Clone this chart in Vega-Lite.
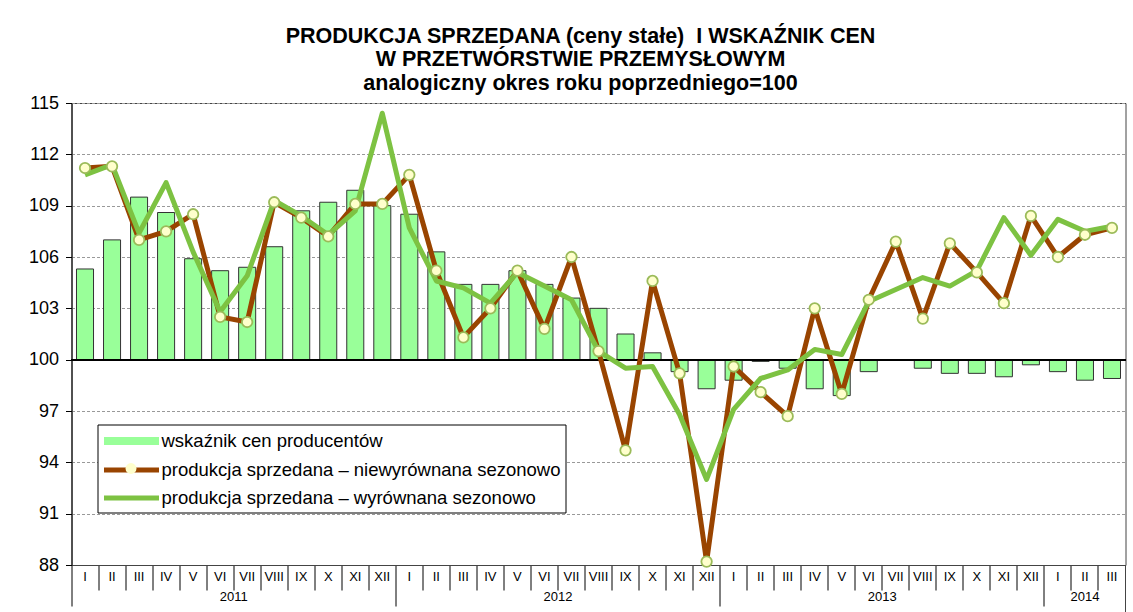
{
  "$schema": "https://vega.github.io/schema/vega-lite/v6.json",
  "width": 1054,
  "height": 462,
  "autosize": {"type": "none"},
  "padding": {"left": 71.5, "top": 103, "right": 7.5, "bottom": 47},
  "background": "white",
  "title": {
    "text": ["PRODUKCJA SPRZEDANA (ceny stałe)\u00a0 I WSKAŹNIK CEN", "W PRZETWÓRSTWIE PRZEMYSŁOWYM", "analogiczny okres roku poprzedniego=100"],
    "font": "Liberation Sans", "fontSize": 21.5, "fontWeight": "bold", "color": "#000",
    "anchor": "middle", "dx": -18, "lineHeight": 23.5, "offset": 0
  },
  "config": {
    "font": "Liberation Sans",
    "view": {"stroke": "#444", "strokeWidth": 1}
  },
  "data": {"values": [
    {"okres": "I 2011", "rok": "2011", "mies": "I", "ceny": 105.3, "niewyr": 111.2, "wyr": 110.8},
    {"okres": "II 2011", "rok": "2011", "mies": "II", "ceny": 107.0, "niewyr": 111.3, "wyr": 111.4},
    {"okres": "III 2011", "rok": "2011", "mies": "III", "ceny": 109.5, "niewyr": 107.0, "wyr": 107.4},
    {"okres": "IV 2011", "rok": "2011", "mies": "IV", "ceny": 108.6, "niewyr": 107.5, "wyr": 110.35},
    {"okres": "V 2011", "rok": "2011", "mies": "V", "ceny": 105.9, "niewyr": 108.5, "wyr": 106.3},
    {"okres": "VI 2011", "rok": "2011", "mies": "VI", "ceny": 105.2, "niewyr": 102.5, "wyr": 102.8},
    {"okres": "VII 2011", "rok": "2011", "mies": "VII", "ceny": 105.4, "niewyr": 102.2, "wyr": 104.9},
    {"okres": "VIII 2011", "rok": "2011", "mies": "VIII", "ceny": 106.6, "niewyr": 109.2, "wyr": 109.3},
    {"okres": "IX 2011", "rok": "2011", "mies": "IX", "ceny": 108.7, "niewyr": 108.3, "wyr": 108.4},
    {"okres": "X 2011", "rok": "2011", "mies": "X", "ceny": 109.2, "niewyr": 107.2, "wyr": 107.3},
    {"okres": "XI 2011", "rok": "2011", "mies": "XI", "ceny": 109.9, "niewyr": 109.1, "wyr": 108.7},
    {"okres": "XII 2011", "rok": "2011", "mies": "XII", "ceny": 109.0, "niewyr": 109.1, "wyr": 114.4},
    {"okres": "I 2012", "rok": "2012", "mies": "I", "ceny": 108.5, "niewyr": 110.8, "wyr": 107.7},
    {"okres": "II 2012", "rok": "2012", "mies": "II", "ceny": 106.3, "niewyr": 105.2, "wyr": 104.6},
    {"okres": "III 2012", "rok": "2012", "mies": "III", "ceny": 104.4, "niewyr": 101.3, "wyr": 104.2},
    {"okres": "IV 2012", "rok": "2012", "mies": "IV", "ceny": 104.4, "niewyr": 103.0, "wyr": 103.3},
    {"okres": "V 2012", "rok": "2012", "mies": "V", "ceny": 105.2, "niewyr": 105.2, "wyr": 105.1},
    {"okres": "VI 2012", "rok": "2012", "mies": "VI", "ceny": 104.4, "niewyr": 101.8, "wyr": 104.3},
    {"okres": "VII 2012", "rok": "2012", "mies": "VII", "ceny": 103.6, "niewyr": 106.0, "wyr": 103.5},
    {"okres": "VIII 2012", "rok": "2012", "mies": "VIII", "ceny": 103.0, "niewyr": 100.5, "wyr": 100.5},
    {"okres": "IX 2012", "rok": "2012", "mies": "IX", "ceny": 101.5, "niewyr": 94.7, "wyr": 99.5},
    {"okres": "X 2012", "rok": "2012", "mies": "X", "ceny": 100.4, "niewyr": 104.6, "wyr": 99.6},
    {"okres": "XI 2012", "rok": "2012", "mies": "XI", "ceny": 99.3, "niewyr": 99.2, "wyr": 96.8},
    {"okres": "XII 2012", "rok": "2012", "mies": "XII", "ceny": 98.3, "niewyr": 88.2, "wyr": 93.0},
    {"okres": "I 2013", "rok": "2013", "mies": "I", "ceny": 98.8, "niewyr": 99.6, "wyr": 97.1},
    {"okres": "II 2013", "rok": "2013", "mies": "II", "ceny": 99.9, "niewyr": 98.1, "wyr": 98.9},
    {"okres": "III 2013", "rok": "2013", "mies": "III", "ceny": 99.5, "niewyr": 96.7, "wyr": 99.4},
    {"okres": "IV 2013", "rok": "2013", "mies": "IV", "ceny": 98.3, "niewyr": 103.0, "wyr": 100.6},
    {"okres": "V 2013", "rok": "2013", "mies": "V", "ceny": 97.9, "niewyr": 98.0, "wyr": 100.3},
    {"okres": "VI 2013", "rok": "2013", "mies": "VI", "ceny": 99.3, "niewyr": 103.5, "wyr": 103.4},
    {"okres": "VII 2013", "rok": "2013", "mies": "VII", "ceny": 100.0, "niewyr": 106.9, "wyr": 104.1},
    {"okres": "VIII 2013", "rok": "2013", "mies": "VIII", "ceny": 99.5, "niewyr": 102.4, "wyr": 104.8},
    {"okres": "IX 2013", "rok": "2013", "mies": "IX", "ceny": 99.2, "niewyr": 106.8, "wyr": 104.3},
    {"okres": "X 2013", "rok": "2013", "mies": "X", "ceny": 99.2, "niewyr": 105.1, "wyr": 105.2},
    {"okres": "XI 2013", "rok": "2013", "mies": "XI", "ceny": 99.0, "niewyr": 103.3, "wyr": 108.3},
    {"okres": "XII 2013", "rok": "2013", "mies": "XII", "ceny": 99.7, "niewyr": 108.4, "wyr": 106.1},
    {"okres": "I 2014", "rok": "2014", "mies": "I", "ceny": 99.3, "niewyr": 106.0, "wyr": 108.2},
    {"okres": "II 2014", "rok": "2014", "mies": "II", "ceny": 98.8, "niewyr": 107.3, "wyr": 107.5},
    {"okres": "III 2014", "rok": "2014", "mies": "III", "ceny": 98.9, "niewyr": 107.7, "wyr": 107.8}
  ]},
  "layer": [
    {
      "mark": {"type": "bar", "width": {"band": 0.63}, "stroke": "#333", "strokeWidth": 1},
      "encoding": {
        "x": {
          "field": "okres", "type": "nominal",
          "scale": {"domain": ["I 2011","II 2011","III 2011","IV 2011","V 2011","VI 2011","VII 2011","VIII 2011","IX 2011","X 2011","XI 2011","XII 2011","I 2012","II 2012","III 2012","IV 2012","V 2012","VI 2012","VII 2012","VIII 2012","IX 2012","X 2012","XI 2012","XII 2012","I 2013","II 2013","III 2013","IV 2013","V 2013","VI 2013","VII 2013","VIII 2013","IX 2013","X 2013","XI 2013","XII 2013","I 2014","II 2014","III 2014"], "paddingInner": 0, "paddingOuter": 0},
          "axis": {
            "title": null, "labelAngle": 0, "labelExpr": "split(datum.value, ' ')[0]",
            "bandPosition": 0,
            "tickSize": {"condition": {"test": "split(datum.value, ' ')[0] === 'I'", "value": 41}, "value": 25},
            "labelPadding": {"condition": {"test": "split(datum.value, ' ')[0] === 'I'", "value": -30}, "value": -14},
            "tickColor": "#000", "domainColor": "#444", "grid": false,
            "labelFont": "Liberation Sans", "labelFontSize": 13, "labelColor": "#000",
            "labelBaseline": "middle", "labelOverlap": false
          }
        },
        "y": {
          "field": "ceny", "type": "quantitative",
          "scale": {"domain": [88, 115], "zero": false, "nice": false},
          "axis": {
            "title": null, "values": [88, 91, 94, 97, 100, 103, 106, 109, 112, 115],
            "grid": true, "gridDash": [3, 2], "gridColor": "#999", "gridWidth": 1,
            "domainColor": "#000", "tickColor": "#000", "tickSize": 6,
            "labelFont": "Liberation Sans", "labelFontSize": 18, "labelColor": "#000", "labelPadding": 7
          }
        },
        "y2": {"datum": 100},
        "color": {
          "datum": "wskaźnik cen producentów",
          "scale": {
            "domain": ["wskaźnik cen producentów", "produkcja sprzedana – niewyrównana sezonowo", "produkcja sprzedana – wyrównana sezonowo"],
            "range": ["#99FF99", "#994400", "#7DC242"]
          },
          "legend": {
            "title": null, "orient": "none", "legendX": 26, "legendY": 321.5, "zindex": 1,
            "strokeColor": "#000", "fillColor": "#fff", "padding": 4,
            "labelFont": "Liberation Sans", "labelFontSize": 18.5, "labelColor": "#000", "labelLimit": 700,
            "symbolSize": 400, "symbolStrokeWidth": 5, "labelOffset": 35, "rowPadding": 5,
            "symbolOpacity": 1,
            "symbolType": {"expr": "datum.value === 'wskaźnik cen producentów' ? 'M-0.75,-0.15H4.25V0.15H-0.75Z' : 'M-1,0H4.5'"}
          }
        }
      }
    },
    {
      "mark": {"type": "rule", "color": "#000", "strokeWidth": 1},
      "encoding": {"y": {"datum": 100}}
    },
    {
      "mark": {"type": "line", "strokeWidth": 5, "strokeJoin": "round"},
      "encoding": {
        "x": {"field": "okres", "type": "nominal"},
        "y": {"field": "niewyr", "type": "quantitative"},
        "color": {"datum": "produkcja sprzedana – niewyrównana sezonowo"}
      }
    },
    {
      "mark": {"type": "line", "strokeWidth": 5, "strokeJoin": "round"},
      "encoding": {
        "x": {"field": "okres", "type": "nominal"},
        "y": {"field": "wyr", "type": "quantitative"},
        "color": {"datum": "produkcja sprzedana – wyrównana sezonowo"}
      }
    },
    {
      "mark": {"type": "point", "filled": true, "fill": "#FFFFCC", "stroke": "#9BBB59", "strokeWidth": 1.8, "size": 110, "opacity": 1},
      "encoding": {
        "x": {"field": "okres", "type": "nominal"},
        "y": {"field": "niewyr", "type": "quantitative"},
        "shape": {
          "datum": "punkt",
          "scale": {"domain": ["punkt"], "range": ["circle"]},
          "legend": {
            "title": null, "orient": "none", "legendX": 53, "legendY": 359, "zindex": 5,
            "padding": 0, "labelExpr": "''", "labelFontSize": 1, "labelOffset": 0,
            "symbolSize": 120, "symbolStrokeWidth": 1.8, "symbolFillColor": "#FFFFCC", "symbolStrokeColor": "#9BBB59", "symbolOpacity": 1
          }
        }
      }
    },
    {
      "transform": [{"filter": "datum.mies === 'VI' && datum.rok !== '2014'"}],
      "mark": {"type": "text", "font": "Liberation Sans", "fontSize": 13, "color": "#000", "baseline": "middle", "align": "center"},
      "encoding": {
        "x": {"field": "okres", "type": "nominal", "bandPosition": 1},
        "y": {"datum": 86.13},
        "text": {"field": "rok"}
      }
    },
    {
      "transform": [{"filter": "datum.okres === 'II 2014'"}],
      "mark": {"type": "text", "font": "Liberation Sans", "fontSize": 13, "color": "#000", "baseline": "middle", "align": "center"},
      "encoding": {
        "x": {"field": "okres", "type": "nominal", "bandPosition": 0.5},
        "y": {"datum": 86.13},
        "text": {"field": "rok"}
      }
    },
    {
      "transform": [{"filter": "datum.okres === 'III 2014'"}],
      "mark": {"type": "rule", "color": "#444", "strokeWidth": 1},
      "encoding": {
        "x": {"field": "okres", "type": "nominal", "bandPosition": 1},
        "y": {"datum": 88},
        "y2": {"datum": 85.2}
      }
    }
  ]
}
